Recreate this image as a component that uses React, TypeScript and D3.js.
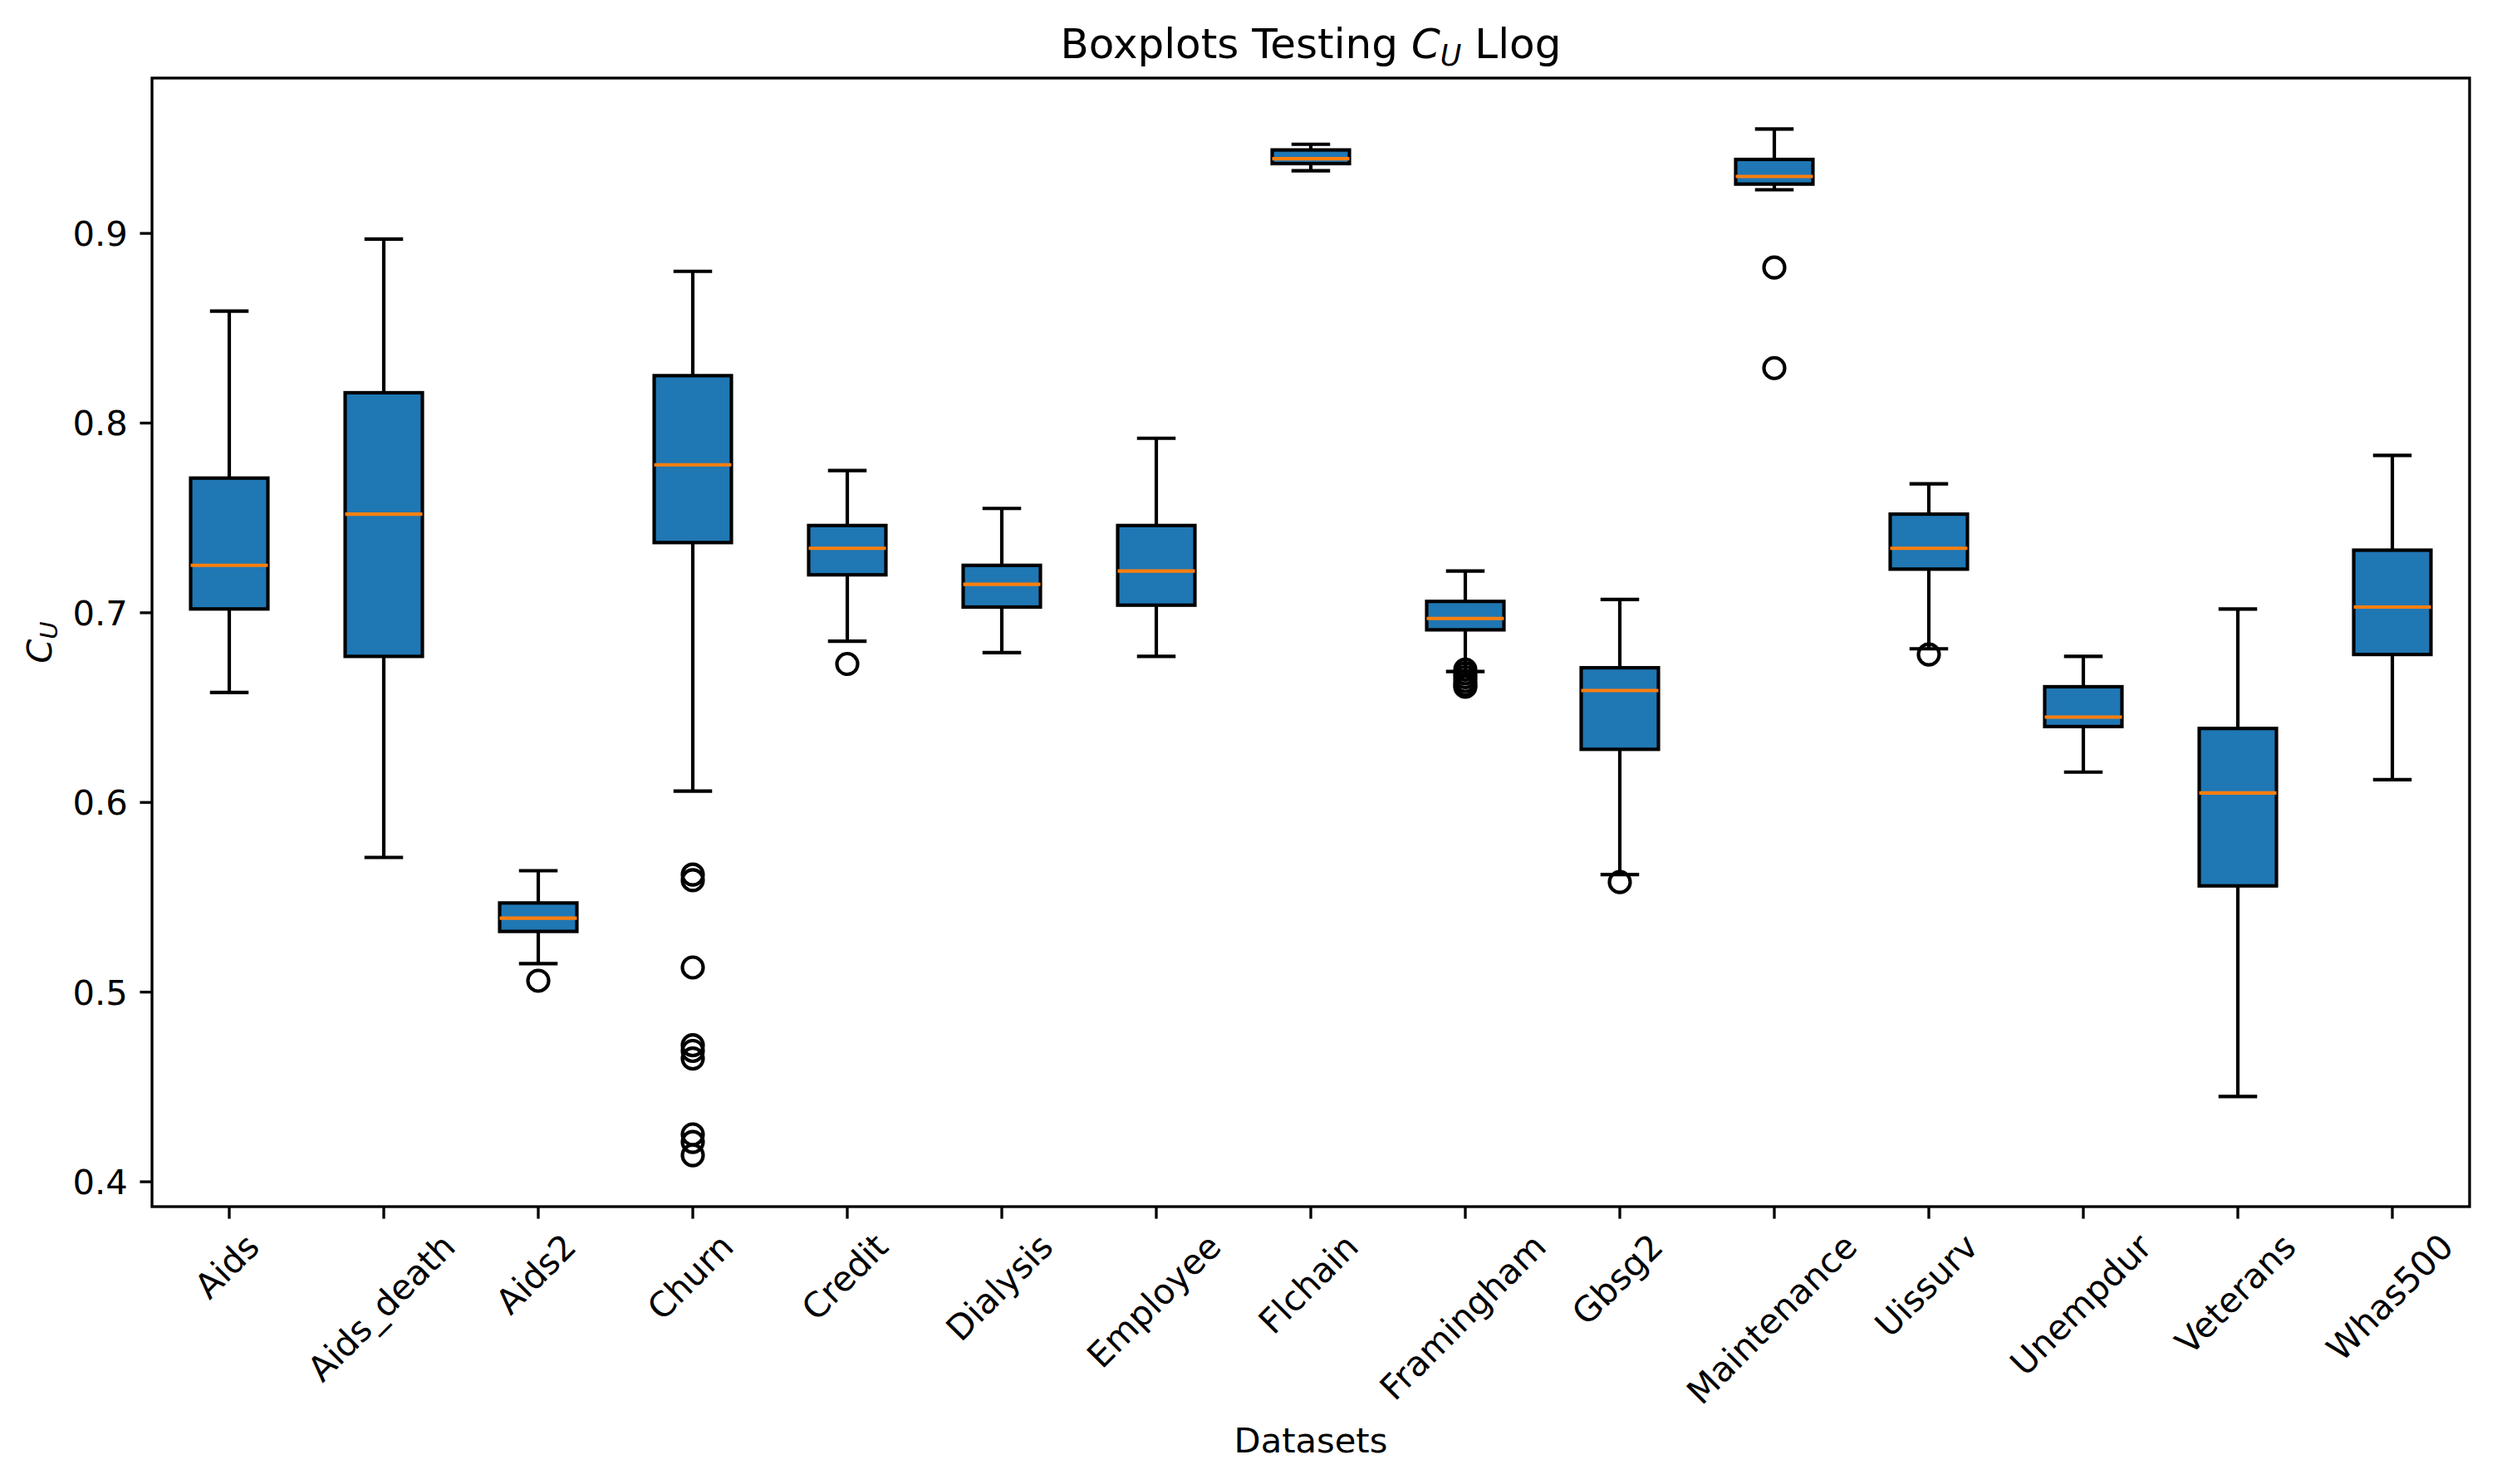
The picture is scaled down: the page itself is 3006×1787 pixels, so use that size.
import { useEffect } from 'react'
import { scaleBand, scaleLinear } from 'd3'

const DATASETS = [
  'Aids', 'Aids_death', 'Aids2', 'Churn', 'Credit', 'Dialysis', 'Employee', 'Flchain',
  'Framingham', 'Gbsg2', 'Maintenance', 'Uissurv', 'Unempdur', 'Veterans', 'Whas500',
]
const WHISKER_LOW = [0.658, 0.571, 0.515, 0.606, 0.685, 0.679, 0.677, 0.933, 0.669, 0.562, 0.923, 0.681, 0.616, 0.445, 0.612]
const Q1 = [0.702, 0.677, 0.532, 0.737, 0.720, 0.703, 0.704, 0.9368, 0.691, 0.628, 0.926, 0.723, 0.640, 0.556, 0.678]
const MEDIAN = [0.725, 0.752, 0.539, 0.778, 0.734, 0.715, 0.722, 0.9394, 0.697, 0.659, 0.930, 0.734, 0.645, 0.605, 0.703]
const Q3 = [0.771, 0.816, 0.547, 0.825, 0.746, 0.725, 0.746, 0.944, 0.706, 0.671, 0.939, 0.752, 0.661, 0.639, 0.733]
const WHISKER_HIGH = [0.859, 0.897, 0.564, 0.880, 0.775, 0.755, 0.792, 0.947, 0.722, 0.707, 0.955, 0.768, 0.677, 0.702, 0.783]
const OUTLIERS: number[][] = [
  [], [], [0.506],
  [0.562, 0.559, 0.513, 0.472, 0.469, 0.465, 0.425, 0.421, 0.414],
  [0.673], [], [], [],
  [0.670, 0.668, 0.666, 0.664, 0.662, 0.661],
  [0.558], [0.882, 0.829], [0.678], [], [], [],
]
const Y_TICKS = [0.4, 0.5, 0.6, 0.7, 0.8, 0.9]

const W = 3006
const H = 1787
const FONT = '"DejaVu Sans", sans-serif'
const PT = 300 / 72

function measure(text: string, size: number) {
  const ctx = document.createElement('canvas').getContext('2d')!
  ctx.font = `${size}px "DejaVu Sans"`
  return ctx.measureText(text).width
}

export default function App() {
  useEffect(() => {
    document.body.style.margin = '0'
  }, [])

  const left = 183
  const right = 2973
  const top = 94
  const bottom = 1453

  const x = scaleBand().domain(DATASETS).range([left, right])
  const bw = x.bandwidth()
  const boxW = bw * 0.5
  const capW = bw * 0.25
  const y = scaleLinear().domain([0.3869, 0.9819]).range([bottom, top])

  const lw = 1 * PT
  const tickLen = 3.5 * PT
  const tickPad = 3.5 * PT
  const labelSize = 10 * PT
  const lineH = 0.97 * labelSize
  const xLabelTop = bottom + tickLen + tickPad

  const rotH = DATASETS.map((d) => (measure(d, labelSize) + lineH) * Math.SQRT1_2)
  const maxRotH = Math.max(...rotH)
  const xTitleBaseline = xLabelTop + maxRotH + 4 * PT + 0.76 * labelSize

  return (
    <svg width={W} height={H} style={{ display: 'block', background: '#fff' }} fontFamily={FONT}>
      {/* boxes */}
      {DATASETS.map((d, i) => {
        const cx = x(d)! + bw / 2
        return (
          <g key={d}>
            <rect
              x={cx - boxW / 2}
              y={y(Q3[i])}
              width={boxW}
              height={y(Q1[i]) - y(Q3[i])}
              fill='#1f77b4'
              stroke='#000'
              strokeWidth={lw}
            />
            <line x1={cx} x2={cx} y1={y(Q1[i])} y2={y(WHISKER_LOW[i])} stroke='#000' strokeWidth={lw} />
            <line x1={cx} x2={cx} y1={y(Q3[i])} y2={y(WHISKER_HIGH[i])} stroke='#000' strokeWidth={lw} />
            <line x1={cx - capW / 2} x2={cx + capW / 2} y1={y(WHISKER_LOW[i])} y2={y(WHISKER_LOW[i])} stroke='#000' strokeWidth={lw} />
            <line x1={cx - capW / 2} x2={cx + capW / 2} y1={y(WHISKER_HIGH[i])} y2={y(WHISKER_HIGH[i])} stroke='#000' strokeWidth={lw} />
            <line x1={cx - boxW / 2} x2={cx + boxW / 2} y1={y(MEDIAN[i])} y2={y(MEDIAN[i])} stroke='#ff7f0e' strokeWidth={lw} />
            {OUTLIERS[i].map((v, j) => (
              <circle key={j} cx={cx} cy={y(v)} r={3 * PT} fill='none' stroke='#000' strokeWidth={lw} />
            ))}
          </g>
        )
      })}

      {/* spines */}
      <rect x={left} y={top} width={right - left} height={bottom - top} fill='none' stroke='#000' strokeWidth={0.8 * PT} />

      {/* y ticks */}
      {Y_TICKS.map((t) => (
        <g key={t}>
          <line x1={left - tickLen} x2={left} y1={y(t)} y2={y(t)} stroke='#000' strokeWidth={0.8 * PT} />
          <text x={left - tickLen - tickPad} y={y(t) + 15} textAnchor='end' fontSize={labelSize}>
            {t.toFixed(1)}
          </text>
        </g>
      ))}

      {/* x ticks */}
      {DATASETS.map((d, i) => {
        const cx = x(d)! + bw / 2
        const cy = xLabelTop + rotH[i] / 2
        return (
          <g key={d}>
            <line x1={cx} x2={cx} y1={bottom} y2={bottom + tickLen} stroke='#000' strokeWidth={0.8 * PT} />
            <text
              transform={`translate(${cx},${cy}) rotate(-45)`}
              y={lineH / 2 - 0.236 * labelSize}
              textAnchor='middle'
              fontSize={labelSize}
            >
              {d}
            </text>
          </g>
        )
      })}

      {/* axis labels */}
      <text x={(left + right) / 2} y={xTitleBaseline} textAnchor='middle' fontSize={labelSize}>
        Datasets
      </text>
      <text transform={`translate(62,${(top + bottom) / 2}) rotate(-90)`} textAnchor='middle' fontSize={labelSize}>
        <tspan fontStyle='italic'>C</tspan>
        <tspan fontStyle='italic' fontSize={labelSize * 0.7} dy={7}>U</tspan>
      </text>

      {/* title */}
      <text x={(left + right) / 2} y={70} textAnchor='middle' fontSize={12 * PT}>
        <tspan>Boxplots Testing </tspan>
        <tspan fontStyle='italic'>C</tspan>
        <tspan fontStyle='italic' fontSize={12 * PT * 0.7} dy={9}>U</tspan>
        <tspan dy={-9}> Llog</tspan>
      </text>
    </svg>
  )
}
